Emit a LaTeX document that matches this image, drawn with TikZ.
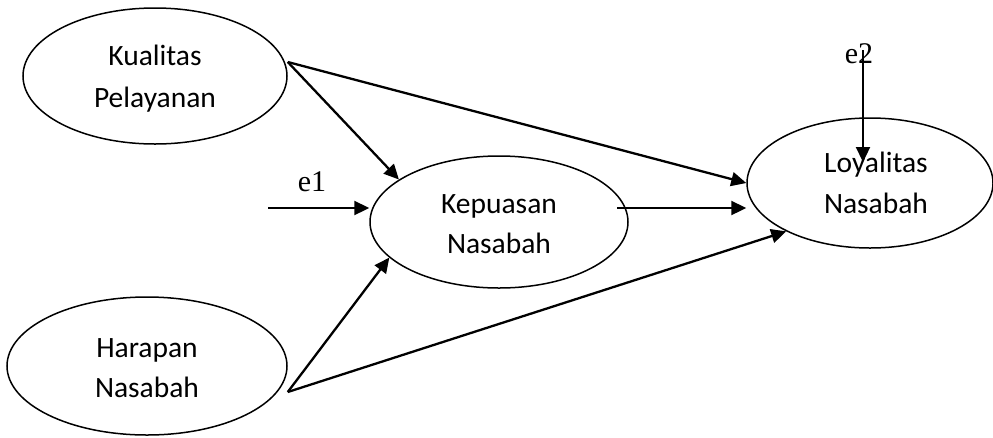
\documentclass[tikz,border=0pt]{standalone}
\usepackage{fontspec}
\setmainfont{Carlito}
\newfontfamily\errfont{Liberation Serif}
\usetikzlibrary{arrows.meta,shapes.geometric}
\begin{document}
\begin{tikzpicture}[x=1pt,y=-1pt,
  latent/.style={draw,ellipse,line width=1.5pt,inner sep=0pt},
  lbl/.style={anchor=base,inner sep=0pt,font=\fontsize{29.5}{35}\selectfont},
  errlbl/.style={anchor=base,inner sep=0pt,font=\errfont\fontsize{30}{36}\selectfont},
  path/.style={line width=2.3pt,-{Triangle[length=15pt,width=14pt]}}]
\useasboundingbox (0,0) rectangle (993,437);
% latent variables
\node[latent,minimum width=264pt,minimum height=136pt] (kual) at (155,76) {};
\node[latent,minimum width=280pt,minimum height=138pt] (har) at (147,366) {};
\node[latent,minimum width=258pt,minimum height=132pt] (kep) at (499,222) {};
\node[latent,minimum width=246pt,minimum height=130pt] (loy) at (870,183) {};
% texts
\node[lbl] (kualA) at (155,65) {Kualitas};
\node[lbl] (kualB) at (155,107) {Pelayanan};
\node[lbl] (harA) at (147,357) {Harapan};
\node[lbl] (harB) at (147,397) {Nasabah};
\node[lbl] (kepA) at (499,213) {Kepuasan};
\node[lbl] (kepB) at (499,253) {Nasabah};
\node[lbl] (loyA) at (876,172) {Loyalitas};
\node[lbl] (loyB) at (876,213) {Nasabah};
\node[errlbl] (e1) at (312,191) {e1};
\node[errlbl] (e2) at (859,63) {e2};
% coordinates
\coordinate (e1s) at (268,208);
\coordinate (e2s) at (863,50);
\coordinate (e2e) at (863,162);
\coordinate (kepout) at (617,208);
% paths
\draw[path] ([yshift=14pt]kual.east) -- (kep.157);
\draw[path] ([yshift=14pt]kual.east) -- (loy.west);
\draw[path] ([yshift=-26pt]har.east) -- (kep.198);
\draw[path] ([yshift=-26pt]har.east) -- (loy.210.6);
\draw[path] (kepout) -- (loy.west |- kepout);
\draw[path] (e1s) -- (kep.west |- e1s);
\draw[path] (e2s) -- (e2e);
\end{tikzpicture}
\end{document}
